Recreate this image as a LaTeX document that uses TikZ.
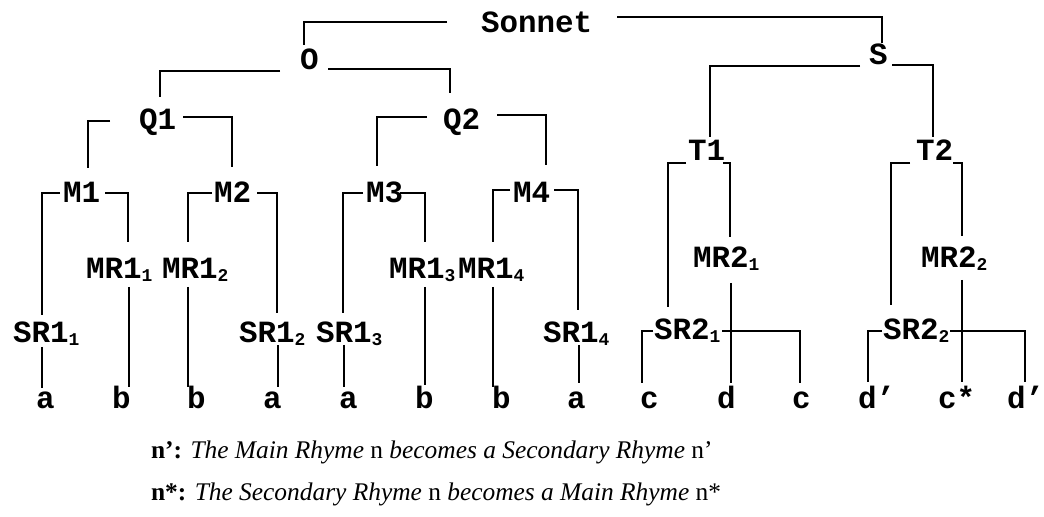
\documentclass[tikz,border=0pt]{standalone}
\usepackage{fontspec}
\setmainfont{Liberation Serif}
\setmonofont{Liberation Mono}
\newcommand\ttl{\fontsize{31}{31}\selectfont\ttfamily\bfseries}
\newcommand\sbs[1]{\raisebox{-3bp}{\fontsize{18}{18}\selectfont\ttfamily\bfseries #1}}
\newcommand\conn[4]{\draw ([shift={(#2)}]#1.base west) -| ([shift={(#4)}]#3.base west);}
\tikzset{lbl/.style={font=\ttl, inner sep=0pt, anchor=base west},
  legend/.style={font=\fontsize{25.5}{25.5}\selectfont, inner sep=0pt, anchor=base west},
  every path/.style={line width=2bp}}
\begin{document}
\begin{tikzpicture}[x=1bp,y=-1bp]
\fill[white] (0,0) rectangle (1044,517);
\useasboundingbox (0,0) rectangle (1044,517);
% nodes
\node[lbl] (Son) at (480,33) {Sonnet};
\node[lbl] (O) at (299,70) {O};
\node[lbl] (S) at (868,65) {S};
\node[lbl] (Q1) at (138,130) {Q1};
\node[lbl] (Q2) at (442,130) {Q2};
\node[lbl] (T1) at (687,161) {T1};
\node[lbl] (T2) at (915,161) {T2};
\node[lbl] (M1) at (62,203) {M1};
\node[lbl] (M2) at (213,203) {M2};
\node[lbl] (M3) at (365,203) {M3};
\node[lbl] (M4) at (512,203) {M4};
\node[lbl] (MRa) at (85,279) {MR1\sbs{1}};
\node[lbl] (MRb) at (161,279) {MR1\sbs{2}};
\node[lbl] (MRc) at (388,279) {MR1\sbs{3}};
\node[lbl] (MRd) at (457,279) {MR1\sbs{4}};
\node[lbl] (MRe) at (692,268) {MR2\sbs{1}};
\node[lbl] (MRf) at (920,268) {MR2\sbs{2}};
\node[lbl] (SRa) at (12,343) {SR1\sbs{1}};
\node[lbl] (SRb) at (238,343) {SR1\sbs{2}};
\node[lbl] (SRc) at (315,343) {SR1\sbs{3}};
\node[lbl] (SRd) at (542,343) {SR1\sbs{4}};
\node[lbl] (SRe) at (653,340) {SR2\sbs{1}};
\node[lbl] (SRf) at (882,340) {SR2\sbs{2}};
\node[lbl] (L1) at (35,408) {a};
\node[lbl] (L2) at (111,408) {b};
\node[lbl] (L3) at (186,408) {b};
\node[lbl] (L4) at (262,408) {a};
\node[lbl] (L5) at (338,408) {a};
\node[lbl] (L6) at (414,408) {b};
\node[lbl] (L7) at (491,408) {b};
\node[lbl] (L8) at (566,408) {a};
\node[lbl] (L9) at (639,408) {c};
\node[lbl] (L10) at (716,408) {d};
\node[lbl] (L11) at (791,408) {c};
\node[lbl] (L12) at (857,408) {d’};
\node[lbl] (L13) at (937,408) {c*};
\node[lbl] (L14) at (1006,408) {d’};
\node[legend] (lg1) at (150,458) {\textbf{n’:} \textit{The Main Rhyme} n \textit{becomes a Secondary Rhyme} n’};
\node[legend] (lg2) at (150,500) {\textbf{n*:} \textit{The Secondary Rhyme} n \textit{becomes a Main Rhyme} n*};
% connectors
\conn{Son}{-33,-11}{O}{5,-25}
\conn{Son}{137,-16}{S}{14,-22}
\conn{O}{-19,1}{Q1}{22,-33}
\conn{O}{29,-1}{Q2}{8,-37}
\conn{S}{-8,1}{T1}{23,-24}
\conn{S}{24,0}{T2}{18,-24}
\conn{Q1}{-28,-9}{M1}{26,-35}
\conn{Q1}{45,-13}{M2}{19,-36}
\conn{Q2}{-15,-13}{M3}{12,-37}
\conn{Q2}{55,-15}{M4}{34,-38}
\conn{M1}{-2,-10}{SRa}{30,-28}
\conn{M1}{43,-10}{MRa}{43,-37}
\conn{M2}{-1,-10}{MRb}{27,-37}
\conn{M2}{44,-10}{SRb}{39,-30}
\conn{M3}{-2,-10}{SRc}{28,-30}
\conn{M3}{35,-10}{MRc}{37,-37}
\conn{M4}{-2,-13}{MRd}{36,-37}
\conn{M4}{42,-13}{SRd}{36,-33}
\conn{T1}{-1,2}{SRe}{15,-33}
\conn{T1}{36,2}{MRe}{38,-31}
\conn{T2}{-5,2}{SRf}{9,-35}
\conn{T2}{38,2}{MRf}{42,-32}
\conn{SRa}{30,4}{L1}{7,-20}
\conn{MRa}{44,8}{L2}{18,-21}
\conn{MRb}{27,8}{L3}{2,-21}
\conn{SRb}{40,2}{L4}{16,-21}
\conn{SRc}{29,2}{L5}{6,-21}
\conn{MRc}{37,8}{L6}{11,-23}
\conn{MRd}{36,8}{L7}{2,-21}
\conn{SRd}{37,2}{L8}{13,-25}
\conn{SRe}{0,-9}{L9}{3,-25}
\conn{SRe}{69,-9}{L11}{9,-25}
\conn{MRe}{39,15}{L10}{15,-25}
\conn{SRf}{0,-9}{L12}{11,-26}
\conn{SRf}{68,-9}{L14}{19,-26}
\conn{MRf}{42,12}{L13}{25,-26}
\end{tikzpicture}
\end{document}
